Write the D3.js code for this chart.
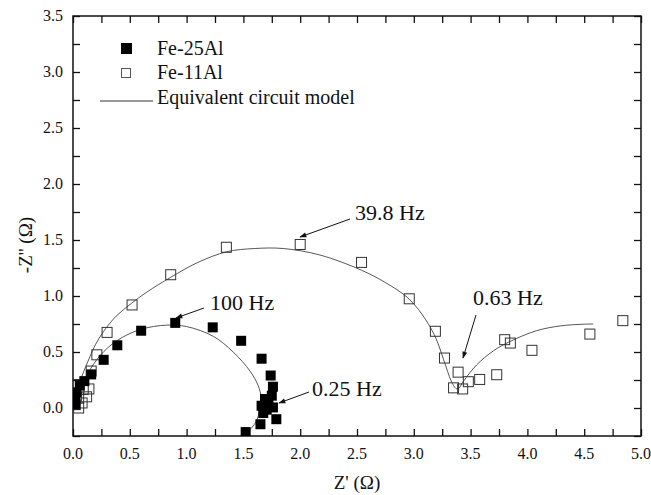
<!DOCTYPE html>
<html><head><meta charset="utf-8">
<script src="https://cdn.jsdelivr.net/npm/d3@7/dist/d3.min.js"></script>
<style>body{margin:0;background:#fff}svg{display:block}</style>
</head><body><svg id="c" width="651" height="495"></svg>
<script>
// Data
const xTicks = [0.0,0.5,1.0,1.5,2.0,2.5,3.0,3.5,4.0,4.5,5.0];
const yTicks = [0.0,0.5,1.0,1.5,2.0,2.5,3.0,3.5];
const fe25 = [[0.02,0.03],[0.02,0.09],[0.03,0.14],[0.06,0.2],[0.1,0.24],[0.16,0.3],[0.27,0.43],[0.39,0.56],[0.6,0.69],[0.9,0.76],[1.23,0.72],[1.48,0.6],[1.66,0.44],[1.74,0.29],[1.76,0.19],[1.75,0.11],[1.69,0.08],[1.72,0.045],[1.76,0.005],[1.66,0.02],[1.705,-0.015],[1.675,-0.045],[1.79,-0.1],[1.65,-0.145],[1.52,-0.215]];
const fe11 = [[0.02,0.03],[0.05,0.0],[0.05,0.09],[0.08,0.045],[0.12,0.1],[0.02,0.21],[0.09,0.165],[0.14,0.17],[0.16,0.33],[0.21,0.475],[0.3,0.675],[0.52,0.92],[0.86,1.19],[1.35,1.435],[2.0,1.46],[2.54,1.3],[2.96,0.975],[3.19,0.685],[3.27,0.446],[3.39,0.32],[3.35,0.18],[3.43,0.17],[3.48,0.235],[3.58,0.255],[3.73,0.297],[3.8,0.61],[3.85,0.58],[4.04,0.515],[4.55,0.66],[4.84,0.78]];
const fit25 = [[0.005,0.02],[0.03,0.11],[0.07,0.2],[0.13,0.31],[0.24,0.47],[0.385,0.6],[0.59,0.7],[0.825,0.74],[1.0,0.727],[1.235,0.64],[1.41,0.5],[1.558,0.33],[1.63,0.2],[1.655,0.1],[1.648,0.014],[1.62,-0.104],[1.573,-0.178],[1.52,-0.223],[1.47,-0.26]];
const fit11 = [[0.005,0.03],[0.026,0.134],[0.077,0.28],[0.15,0.46],[0.2,0.57],[0.267,0.68],[0.38,0.82],[0.517,0.936],[0.65,1.035],[0.86,1.167],[1.1,1.3],[1.353,1.395],[1.6,1.424],[1.85,1.424],[2.174,1.366],[2.54,1.23],[2.75,1.12],[2.94,0.99],[3.07,0.84],[3.187,0.64],[3.263,0.43],[3.33,0.24],[3.37,0.175],[3.39,0.17],[3.436,0.237],[3.553,0.385],[3.70,0.51],[3.847,0.594],[4.08,0.69],[4.29,0.733],[4.49,0.748],[4.58,0.75]];
const notes = [
  {label:"39.8 Hz", tx:355, ty:220, from:[350,219], to:[300,237]},
  {label:"100 Hz", tx:210, ty:310, from:[204,308], to:[176,318]},
  {label:"0.25 Hz", tx:312, ty:396, from:[309,392], to:[279,403]},
  {label:"0.63 Hz", tx:473, ty:305, from:[476,315], to:[463,358]}
];

const svg = d3.select("#c");
const m = {l:73, r:10, t:16, b:59};
const W = 651, H = 495;
const x = d3.scaleLinear().domain([0,5]).range([m.l, W-m.r]);
const y = d3.scaleLinear().domain([-0.25,3.5]).range([H-m.b, m.t]);

svg.append("defs").append("clipPath").attr("id","clip").append("rect")
  .attr("x",m.l).attr("y",m.t).attr("width",W-m.l-m.r).attr("height",H-m.t-m.b);
const mk = svg.select("defs").append("marker").attr("id","arr").attr("viewBox","0 0 10 10")
  .attr("refX",9).attr("refY",5).attr("markerWidth",9).attr("markerHeight",7).attr("orient","auto")
  .attr("markerUnits","userSpaceOnUse");
mk.append("path").attr("d","M0,1.5 L10,5 L0,8.5 Z").attr("fill","#111");

const minorX = d3.range(0,5.001,0.25), minorY = d3.range(-0.25,3.501,0.25);
const axStyle = g => { g.select(".domain").remove(); g.selectAll("line").attr("stroke","#111").attr("stroke-width",1.3); };
svg.append("g").attr("transform",`translate(0,${H-m.b})`)
  .call(d3.axisBottom(x).tickValues(minorX).tickSize(-7).tickFormat(""))
  .call(axStyle);
svg.append("g").attr("transform",`translate(0,${m.t})`)
  .call(d3.axisTop(x).tickValues(minorX).tickSize(-7).tickFormat(""))
  .call(axStyle);
svg.append("g").attr("transform",`translate(${m.l},0)`)
  .call(d3.axisLeft(y).tickValues(minorY).tickSize(-7).tickFormat(""))
  .call(axStyle);
svg.append("g").attr("transform",`translate(${W-m.r},0)`)
  .call(d3.axisRight(y).tickValues(minorY).tickSize(-7).tickFormat(""))
  .call(axStyle);
svg.append("rect").attr("x",m.l).attr("y",m.t).attr("width",W-m.l-m.r).attr("height",H-m.t-m.b)
  .attr("fill","none").attr("stroke","#111").attr("stroke-width",1.5);

const ff = "Liberation Serif, Tinos, DejaVu Serif, serif";
const T = sel => sel.style("font-family", ff).attr("fill","#111");
svg.append("g").selectAll("text").data(xTicks).join("text")
  .attr("x",d=>x(d)).attr("y",459).attr("text-anchor","middle").attr("font-size",16).call(T)
  .text(d=>d.toFixed(1));
svg.append("g").selectAll("text").data(yTicks).join("text")
  .attr("x",63).attr("y",d=>y(d)+5).attr("text-anchor","end").attr("font-size",16).call(T)
  .text(d=>d.toFixed(1));
svg.append("text").attr("x",357).attr("y",489).attr("text-anchor","middle").attr("font-size",19).call(T).text("Z' (\u03A9)");
svg.append("text").attr("transform","translate(32,245) rotate(-90)").attr("text-anchor","middle").attr("font-size",19).call(T).text("-Z'' (\u03A9)");

const plot = svg.append("g").attr("clip-path","url(#clip)");
const line = d3.line().x(d=>x(d[0])).y(d=>y(d[1])).curve(d3.curveCatmullRom.alpha(0.5));
[fit25, fit11].forEach(f => plot.append("path").attr("d",line(f)).attr("fill","none").attr("stroke","#444").attr("stroke-width",0.9));

const s = 10;
plot.append("g").selectAll("rect").data(fe11).join("rect")
  .attr("x",d=>x(d[0])-s/2).attr("y",d=>y(d[1])-s/2).attr("width",s).attr("height",s)
  .attr("fill","none").attr("stroke","#333").attr("stroke-width",1);
plot.append("g").selectAll("rect").data(fe25).join("rect")
  .attr("x",d=>x(d[0])-s/2).attr("y",d=>y(d[1])-s/2).attr("width",s).attr("height",s)
  .attr("fill","#000");

// annotations
const ng = svg.append("g");
notes.forEach(n => {
  ng.append("line").attr("x1",n.from[0]).attr("y1",n.from[1]).attr("x2",n.to[0]).attr("y2",n.to[1])
    .attr("stroke","#111").attr("stroke-width",1).attr("marker-end","url(#arr)");
  ng.append("text").attr("x",n.tx).attr("y",n.ty).attr("font-size",22).call(T).text(n.label);
});

// legend
const lg = svg.append("g");
lg.append("rect").attr("x",121).attr("y",43).attr("width",11).attr("height",11).attr("fill","#000");
lg.append("rect").attr("x",121.5).attr("y",68.5).attr("width",9).attr("height",9).attr("fill","none").attr("stroke","#555").attr("stroke-width",1);
lg.append("line").attr("x1",100).attr("x2",153).attr("y1",101).attr("y2",101).attr("stroke","#333").attr("stroke-width",1);
[["Fe-25Al",55],["Fe-11Al",79],["Equivalent circuit model",104]].forEach(([t,yy]) =>
  lg.append("text").attr("x",157).attr("y",yy).attr("font-size",20).call(T).text(t));
</script></body></html>
